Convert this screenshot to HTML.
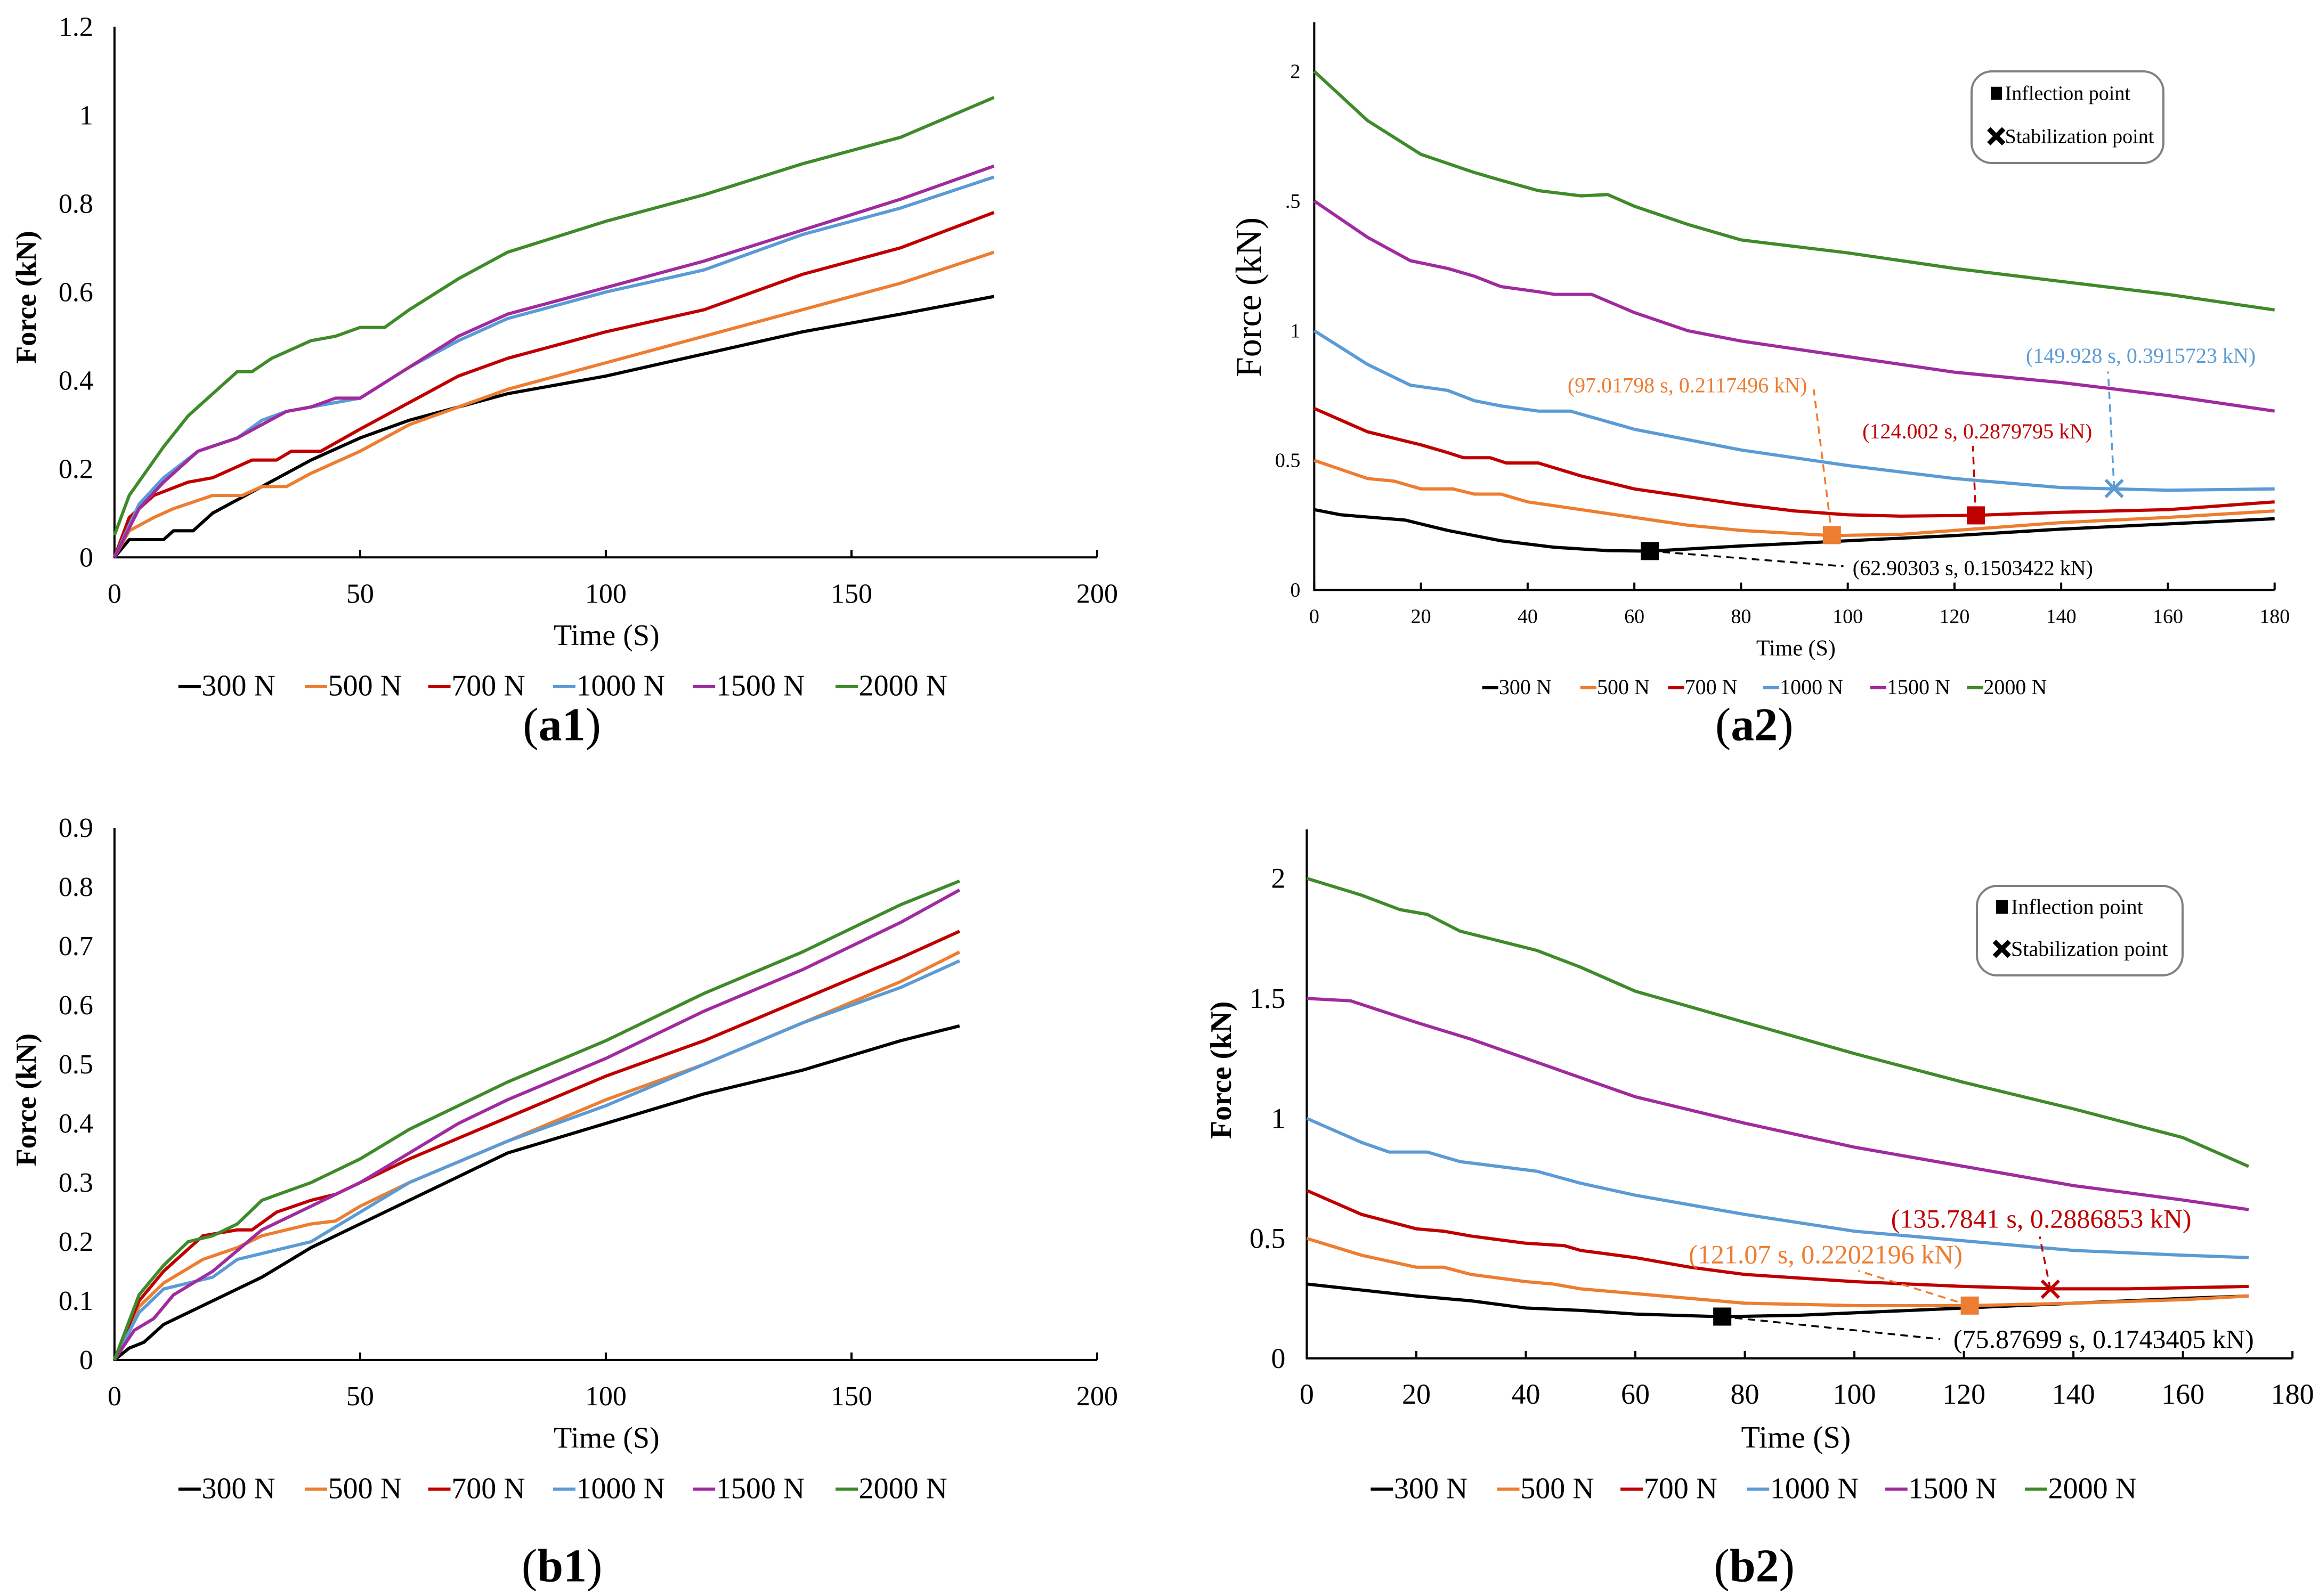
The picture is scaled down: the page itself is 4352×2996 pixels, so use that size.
<!DOCTYPE html>
<html><head><meta charset="utf-8"><style>
html,body{margin:0;padding:0;background:#fff}
svg{display:block}
text{font-family:"Liberation Serif",serif}
</style></head><body>
<svg id="fig" xmlns="http://www.w3.org/2000/svg" width="4352" height="2996" viewBox="0 0 4352 2996"></svg>
<script>
// ---------- data ----------
const seriesNames = ["300 N","500 N","700 N","1000 N","1500 N","2000 N"];
const a1_300 = [[0,0],[3,0.04],[10,0.04],[12,0.06],[16,0.06],[20,0.1],[30,0.16],[40,0.22],[50,0.27],[60,0.31],[70,0.34],[80,0.37],[100,0.41],[120,0.46],[140,0.51],[160,0.55],[179,0.59]];
const a1_500 = [[0,0],[3,0.06],[8,0.09],[12,0.11],[20,0.14],[26,0.14],[30,0.16],[35,0.16],[40,0.19],[50,0.24],[60,0.3],[70,0.34],[80,0.38],[100,0.44],[120,0.5],[140,0.56],[160,0.62],[179,0.69]];
const a1_700 = [[0,0],[3,0.09],[8,0.14],[15,0.17],[20,0.18],[28,0.22],[33,0.22],[36,0.24],[42,0.24],[50,0.29],[60,0.35],[70,0.41],[80,0.45],[90,0.48],[100,0.51],[120,0.56],[140,0.64],[160,0.7],[179,0.78]];
const a1_1000 = [[0,0],[5,0.12],[10,0.18],[17,0.24],[25,0.27],[30,0.31],[35,0.33],[40,0.34],[45,0.35],[50,0.36],[60,0.43],[70,0.49],[80,0.54],[90,0.57],[100,0.6],[120,0.65],[140,0.73],[160,0.79],[179,0.86]];
const a1_1500 = [[0,0],[5,0.11],[10,0.17],[17,0.24],[25,0.27],[30,0.3],[35,0.33],[40,0.34],[45,0.36],[50,0.36],[60,0.43],[70,0.5],[80,0.55],[90,0.58],[100,0.61],[120,0.67],[140,0.74],[160,0.81],[179,0.885]];
const a1_2000 = [[0,0.05],[3,0.14],[10,0.25],[15,0.32],[20,0.37],[25,0.42],[28,0.42],[32,0.45],[40,0.49],[45,0.5],[50,0.52],[55,0.52],[60,0.56],[70,0.63],[80,0.69],[100,0.76],[120,0.82],[140,0.89],[160,0.95],[179,1.04]];

const a2_300 = [[0,0.31],[5,0.29],[17,0.27],[25,0.23],[35,0.19],[45,0.165],[55,0.152],[62.9,0.15],[80,0.17],[100,0.19],[120,0.21],[140,0.235],[160,0.255],[180,0.275]];
const a2_500 = [[0,0.5],[10,0.43],[15,0.42],[20,0.39],[26,0.39],[30,0.37],[35,0.37],[40,0.34],[50,0.31],[60,0.28],[70,0.25],[80,0.23],[97,0.21],[110,0.215],[120,0.23],[140,0.26],[160,0.28],[180,0.305]];
const a2_700 = [[0,0.7],[10,0.61],[20,0.56],[25,0.53],[28,0.51],[33,0.51],[36,0.49],[42,0.49],[50,0.44],[60,0.39],[70,0.36],[80,0.33],[90,0.305],[100,0.29],[110,0.285],[124,0.288],[140,0.3],[160,0.31],[180,0.34]];
const a2_1000 = [[0,1.0],[10,0.87],[18,0.79],[25,0.77],[30,0.73],[35,0.71],[42,0.69],[48,0.69],[60,0.62],[70,0.58],[80,0.54],[100,0.48],[120,0.43],[140,0.395],[150,0.39],[160,0.385],[180,0.39]];
const a2_1500 = [[0,1.5],[10,1.36],[18,1.27],[25,1.24],[30,1.21],[35,1.17],[42,1.15],[45,1.14],[52,1.14],[60,1.07],[70,1.0],[80,0.96],[100,0.9],[120,0.84],[140,0.8],[160,0.75],[180,0.69]];
const a2_2000 = [[0,2.0],[10,1.81],[20,1.68],[30,1.61],[35,1.58],[42,1.54],[50,1.52],[55,1.525],[60,1.48],[70,1.41],[80,1.35],[100,1.3],[120,1.24],[140,1.19],[160,1.14],[180,1.08]];

const b1_300 = [[0,0],[3,0.02],[6,0.03],[10,0.06],[20,0.1],[30,0.14],[40,0.19],[50,0.23],[60,0.27],[70,0.31],[80,0.35],[100,0.4],[120,0.45],[140,0.49],[160,0.54],[172,0.565]];
const b1_500 = [[0,0],[5,0.09],[10,0.13],[18,0.17],[25,0.19],[30,0.21],[40,0.23],[45,0.235],[50,0.26],[60,0.3],[80,0.37],[100,0.44],[120,0.5],[140,0.57],[160,0.64],[172,0.69]];
const b1_700 = [[0,0],[5,0.1],[10,0.15],[18,0.21],[25,0.22],[28,0.22],[33,0.25],[40,0.27],[45,0.28],[50,0.3],[60,0.34],[80,0.41],[100,0.48],[120,0.54],[140,0.61],[160,0.68],[172,0.725]];
const b1_1000 = [[0,0],[5,0.08],[10,0.12],[20,0.14],[25,0.17],[30,0.18],[35,0.19],[40,0.2],[50,0.25],[60,0.3],[80,0.37],[100,0.43],[120,0.5],[140,0.57],[160,0.63],[172,0.675]];
const b1_1500 = [[0,0],[4,0.05],[8,0.07],[12,0.11],[20,0.15],[30,0.22],[40,0.26],[50,0.3],[60,0.35],[70,0.4],[80,0.44],[100,0.51],[120,0.59],[140,0.66],[160,0.74],[172,0.795]];
const b1_2000 = [[0,0],[5,0.11],[10,0.16],[15,0.2],[20,0.21],[25,0.23],[30,0.27],[40,0.3],[50,0.34],[60,0.39],[80,0.47],[100,0.54],[120,0.62],[140,0.69],[160,0.77],[172,0.81]];

const b2_300 = [[0,0.31],[8,0.29],[20,0.26],[30,0.24],[40,0.21],[50,0.2],[60,0.185],[75.9,0.174],[90,0.18],[100,0.19],[120,0.21],[140,0.23],[160,0.25],[172,0.26]];
const b2_500 = [[0,0.5],[10,0.43],[20,0.38],[25,0.38],[30,0.35],[40,0.32],[45,0.31],[50,0.29],[60,0.27],[70,0.25],[80,0.23],[100,0.22],[121,0.22],[140,0.23],[160,0.245],[172,0.26]];
const b2_700 = [[0,0.7],[10,0.6],[20,0.54],[25,0.53],[30,0.51],[40,0.48],[47,0.47],[50,0.45],[60,0.42],[70,0.38],[80,0.35],[100,0.32],[120,0.3],[136,0.29],[150,0.29],[172,0.3]];
const b2_1000 = [[0,1.0],[10,0.9],[15,0.86],[22,0.86],[28,0.82],[35,0.8],[42,0.78],[50,0.73],[60,0.68],[80,0.6],[100,0.53],[120,0.49],[140,0.45],[160,0.43],[172,0.42]];
const b2_1500 = [[0,1.5],[8,1.49],[20,1.4],[30,1.33],[40,1.25],[50,1.17],[60,1.09],[80,0.98],[100,0.88],[120,0.8],[140,0.72],[160,0.66],[172,0.62]];
const b2_2000 = [[0,2.0],[10,1.93],[17,1.87],[22,1.85],[28,1.78],[35,1.74],[42,1.7],[50,1.63],[60,1.53],[80,1.4],[100,1.27],[120,1.15],[140,1.04],[160,0.92],[172,0.8]];

const a1_xticks = [0,50,100,150,200];
const a1_yticks = [0,0.2,0.4,0.6,0.8,1,1.2];
const a2_xticks = [0,20,40,60,80,100,120,140,160,180];
const a2_yticks = [0,0.5,1,1.5,2];
const a2_ylabels = ["0","0.5","1",".5","2"];
const b1_xticks = [0,50,100,150,200];
const b1_yticks = [0,0.1,0.2,0.3,0.4,0.5,0.6,0.7,0.8,0.9];
const b2_xticks = [0,20,40,60,80,100,120,140,160,180];
const b2_yticks = [0,0.5,1,1.5,2];
const b2_ylabels = ["0","0.5","1","1.5","2"];

const a2_points = [[62.90303,0.1503422,"sq","#000","(62.90303 s, 0.1503422 kN)"],[97.01798,0.2117496,"sq","#ed7d31","(97.01798 s, 0.2117496 kN)"],[124.002,0.2879795,"sq","#c00000","(124.002 s, 0.2879795 kN)"],[149.928,0.3915723,"x","#5b9bd5","(149.928 s, 0.3915723 kN)"]];
const b2_points = [[75.87699,0.1743405,"sq","#000","(75.87699 s, 0.1743405 kN)"],[121.07,0.2202196,"sq","#ed7d31","(121.07 s, 0.2202196 kN)"],[135.7841,0.2886853,"x","#c00000","(135.7841 s, 0.2886853 kN)"]];

const colors = ["#000000","#ed7d31","#c00000","#5b9bd5","#a02b9e","#3f8a2a"];
// ---------- drawing ----------
const S = 2.79;
const NS = "http://www.w3.org/2000/svg";
const svg = document.getElementById("fig");
function el(tag, attrs, parent){const e=document.createElementNS(NS,tag);for(const k in attrs)e.setAttribute(k,attrs[k]);(parent||svg).appendChild(e);return e;}
function txt(str, x, y, size, attrs, parent){const t=el("text",Object.assign({x:x,y:y,"font-size":size},attrs||{}),parent);t.textContent=str;return t;}

function chart(id, cfg, series, xt, yt, ylabels){
  const g = el("g",{});
  
  
  const X0=cfg.x0*S, X1=cfg.x1*S, Y0=cfg.y0*S, Y1=cfg.y1*S, YT=cfg.top*S;
  const xs = v => X0 + v*(X1-X0)/cfg.xmax;
  const ys = v => Y0 - v*(Y0-Y1)/cfg.ymax;
  const ax = el("path",{d:`M${X0},${YT} V${Y0} H${xs(xt[xt.length-1])}`,stroke:"#000","stroke-width":4,fill:"none"},g);
  
  
  xt.forEach(v=>{
    el("line",{x1:xs(v),x2:xs(v),y1:Y0,y2:Y0-cfg.tick,stroke:"#000","stroke-width":4},g);
    const t=txt(String(v),xs(v),Y0+cfg.xlabOff,cfg.fs,{"text-anchor":"middle"},g);
    
    
  });
  yt.forEach((v,i)=>{
    const lab = ylabels ? ylabels[i] : String(v);
    const t=txt(lab,X0-cfg.ylabOff,ys(v)+cfg.fs*0.33,cfg.fs,{"text-anchor":"end"},g);
    
    
  });
  series.forEach((s,i)=>{
    const d = s.map((p,j)=>(j?"L":"M")+xs(p[0]).toFixed(1)+","+ys(p[1]).toFixed(1)).join(" ");
    const p = el("path",{d:d,stroke:colors[i],"stroke-width":6,fill:"none","stroke-linejoin":"round"},g);
    
    
  });
  const xt2 = txt("Time (S)",cfg.xtitle[0]*S,cfg.xtitle[1]*S,cfg.tfs,{"text-anchor":"middle"},g);
  
  
  const yt2 = txt("Force (kN)",0,0,cfg.yfs,{"text-anchor":"middle",transform:`translate(${cfg.ytitle[0]*S},${cfg.ytitle[1]*S}) rotate(-90)`,"font-weight":cfg.ybold?"bold":"normal"},g);
  
  
  const lg = el("g",{},g);
  
  
  cfg.leg.forEach((lx,i)=>{
    const e = el("g",{},lg);
    
    
    const y = cfg.legY*S;
    el("line",{x1:lx*S,x2:lx*S+cfg.lfs*0.75,y1:y-cfg.lfs*0.3,y2:y-cfg.lfs*0.3,stroke:colors[i],"stroke-width":6},e);
    txt(seriesNames[i],lx*S+cfg.lfs*0.78,y,cfg.lfs,{},e);
  });
  const c = el("text",{x:cfg.cap[0]*S,y:cfg.cap[1]*S,"font-size":88,"text-anchor":"middle"},g);
  
  
  const t1=el("tspan",{},c);t1.textContent="(";
  const t2=el("tspan",{"font-weight":"bold"},c);t2.textContent=id;
  const t3=el("tspan",{},c);t3.textContent=")";
  return {xs,ys,g};
}

function annotate(ch, pts, labels, id){
  pts.forEach((p,i)=>{
    const [t,v,kind,col,label]=p;
    const L = labels[i];
    const px=ch.xs(t), py=ch.ys(v);
    const ag = el("g",{},ch.g);
    
    
    el("line",{x1:px,y1:py,x2:L.lx*S,y2:L.ly*S,stroke:col,"stroke-width":3.5,"stroke-dasharray":"14,10"},ag);
    if(kind==="sq") el("rect",{x:px-17,y:py-17,width:34,height:34,fill:col},ag);
    else el("path",{d:`M${px-16},${py-16} L${px+16},${py+16} M${px+16},${py-16} L${px-16},${py+16}`,stroke:col,"stroke-width":6},ag);
    txt(label,L.tx*S,L.ty*S,L.fs,{fill:col,"text-anchor":"middle"},ag);
  });
}

function keybox(x,y,w,h,fs,id){
  const g = el("g",{});
  
  
  el("rect",{x:x,y:y,width:w,height:h,rx:38,fill:"#fff",stroke:"#808080","stroke-width":4},g);
  el("rect",{x:x+36,y:y+h*0.3-fs*0.6,width:fs*0.55,height:fs*0.65,fill:"#000"},g);
  txt("Inflection point",x+36+fs*0.7,y+h*0.3+fs*0.05,fs,{},g);
  const cx=x+36+fs*0.27, cy=y+h*0.77-fs*0.28;
  el("path",{d:`M${cx-14},${cy-14} L${cx+14},${cy+14} M${cx+14},${cy-14} L${cx-14},${cy+14}`,stroke:"#000","stroke-width":9},g);
  txt("Stabilization point",x+36+fs*0.7,y+h*0.77+fs*0.05,fs,{},g);
}

const a1 = chart("a1",{x0:77,x1:738,xmax:200,y0:375,y1:18,ymax:1.2,top:18,tick:14,fs:52,xlabOff:85,ylabOff:40,tfs:56,xtitle:[408,434],yfs:54,ybold:true,ytitle:[24,200],leg:[120,205,288,372,466,562],legY:468,lfs:56,cap:[378,498]},[a1_300,a1_500,a1_700,a1_1000,a1_1500,a1_2000],a1_xticks,a1_yticks);
const a2 = chart("a2",{x0:884,x1:1530,xmax:180,y0:397,y1:48,ymax:2,top:15,tick:14,fs:38,xlabOff:62,ylabOff:26,tfs:42,xtitle:[1208,441],yfs:68,ytitle:[848,200],leg:[997,1063,1122,1186,1258,1323],legY:467,lfs:40,cap:[1180,498]},[a2_300,a2_500,a2_700,a2_1000,a2_1500,a2_2000],a2_xticks,a2_yticks,a2_ylabels);
const b1 = chart("b1",{x0:77,x1:738,xmax:200,y0:915,y1:557,ymax:0.9,top:557,tick:14,fs:52,xlabOff:85,ylabOff:40,tfs:56,xtitle:[408,974],yfs:54,ybold:true,ytitle:[24,740],leg:[120,205,288,372,466,562],legY:1008,lfs:56,cap:[378,1064]},[b1_300,b1_500,b1_700,b1_1000,b1_1500,b1_2000],b1_xticks,b1_yticks);
const b2 = chart("b2",{x0:879,x1:1542,xmax:180,y0:914,y1:591,ymax:2,top:558,tick:14,fs:54,xlabOff:85,ylabOff:40,tfs:58,xtitle:[1208,974],yfs:56,ybold:true,ytitle:[828,720],leg:[922,1007,1090,1175,1268,1362],legY:1008,lfs:56,cap:[1180,1064]},[b2_300,b2_500,b2_700,b2_1000,b2_1500,b2_2000],b2_xticks,b2_yticks,b2_ylabels);

annotate(a2,a2_points,[
  {lx:1240,ly:381,tx:1327,ty:387,fs:40},
  {lx:1220,ly:262,tx:1135,ty:264,fs:40},
  {lx:1327,ly:300,tx:1330,ty:295,fs:40},
  {lx:1418,ly:250,tx:1440,ty:244,fs:40}
],"a2");
annotate(b2,b2_points,[
  {lx:1305,ly:901,tx:1415,ty:907,fs:50},
  {lx:1250,ly:855,tx:1228,ty:850,fs:50},
  {lx:1372,ly:832,tx:1373,ty:826,fs:50}
],"b2");

keybox(3700,134,360,172,38,"a2");
keybox(3710,1663,386,168,40,"b2");
</script>
</body></html>
